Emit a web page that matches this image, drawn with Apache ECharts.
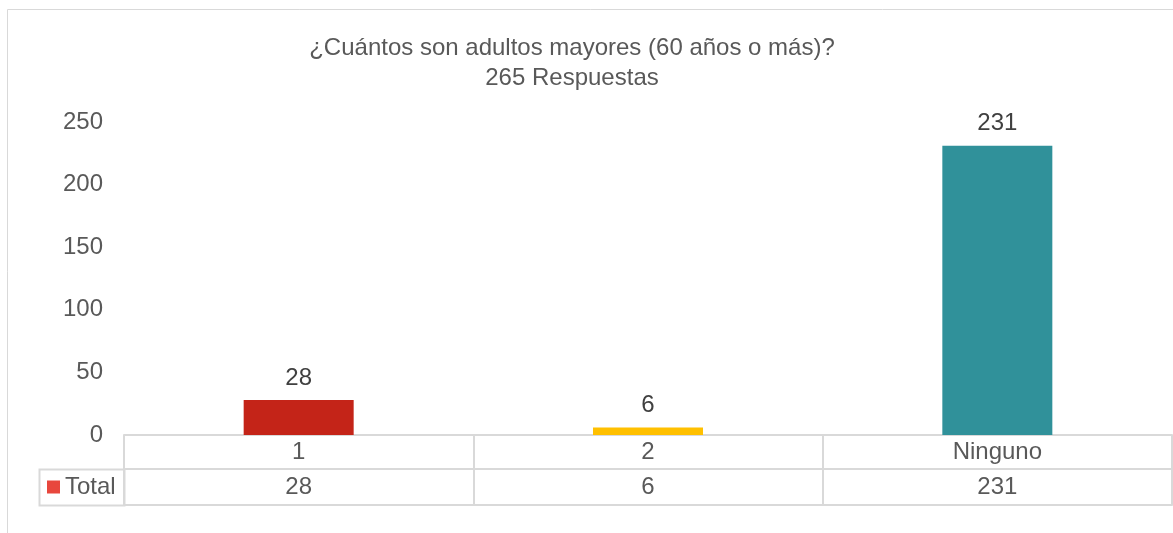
<!DOCTYPE html>
<html>
<head>
<meta charset="utf-8">
<script src="https://cdn.jsdelivr.net/npm/echarts@6/dist/echarts.min.js"></script>
<style>
  html, body { margin: 0; padding: 0; background: #fff; }
  #chart { width: 1173px; height: 533px; }
</style>
</head>
<body>
<div id="chart"></div>
<script>
var categories = ['1', '2', 'Ninguno'];
var totals = [28, 6, 231];
var barColors = ['#C42418', '#FFC000', '#30919A'];
var yTicks = [0, 50, 100, 150, 200, 250];
var seriesName = 'Total';

var chart = echarts.init(document.getElementById('chart'));
var font = 'Liberation Sans, Arial, sans-serif';
var lineColor = '#D9D9D9';

var barData = totals.map(function (v, i) {
    return { value: v, itemStyle: { color: barColors[i] } };
});

chart.setOption({
    animation: false,
    textStyle: { fontFamily: font },
    title: {
        text: '¿Cuántos son adultos mayores (60 años o más)?\n265 Respuestas',
        left: 567,
        top: 28,
        textAlign: 'center',
        textStyle: { fontSize: 24, fontWeight: 'normal', color: '#595959', lineHeight: 30, fontFamily: font }
    },
    legend: {
        data: [seriesName],
        left: 42,
        top: 470,
        itemWidth: 13,
        itemHeight: 13,
        icon: 'rect',
        textStyle: { fontSize: 24, color: '#595959' },
        itemStyle: { color: '#E8473D' }
    },
    graphic: [
        { type: 'rect', shape: { x: 7.5, y: 9.5, width: 1200, height: 600 }, style: { fill: 'none', stroke: lineColor, lineWidth: 1 }, silent: true },
        { type: 'rect', shape: { x: 39.5, y: 469.5, width: 85, height: 36 }, style: { fill: 'none', stroke: lineColor, lineWidth: 2 }, silent: true }
    ],
    grid: { left: 124, right: 1, top: 122, bottom: 98, containLabel: false },
    xAxis: [
        {
            type: 'category',
            data: categories,
            position: 'bottom',
            axisLine: { lineStyle: { color: lineColor, width: 2 } },
            axisTick: { show: true, length: 34, lineStyle: { color: lineColor, width: 2 } },
            axisLabel: { fontSize: 24, color: '#595959', margin: 5 }
        },
        {
            type: 'category',
            data: totals.map(String),
            position: 'bottom',
            offset: 34,
            axisLine: { lineStyle: { color: lineColor, width: 2 } },
            axisTick: { show: true, length: 36, lineStyle: { color: lineColor, width: 2 } },
            axisLabel: { fontSize: 24, color: '#595959', margin: 6 }
        },
        {
            type: 'category',
            data: categories,
            position: 'bottom',
            offset: 70,
            axisLine: { lineStyle: { color: lineColor, width: 2 } },
            axisTick: { show: false },
            axisLabel: { show: false }
        }
    ],
    yAxis: {
        type: 'value',
        min: yTicks[0],
        max: yTicks[yTicks.length - 1],
        interval: 50,
        axisLine: { show: false },
        axisTick: { show: false },
        splitLine: { show: false },
        axisLabel: { fontSize: 24, color: '#595959', margin: 21 }
    },
    series: [{
        name: seriesName,
        type: 'bar',
        xAxisIndex: 0,
        data: barData,
        barWidth: 110,
        itemStyle: { color: '#E8473D' },
        label: { show: true, position: 'top', distance: 10, fontSize: 24, color: '#404040' }
    }]
});
</script>
</body>
</html>
